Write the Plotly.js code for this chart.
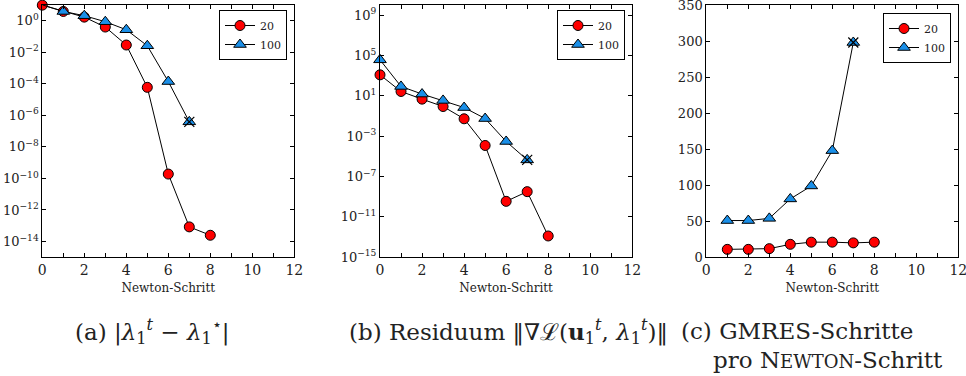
<!DOCTYPE html>
<html>
<head>
<meta charset="utf-8">
<script src="https://cdn.plot.ly/plotly-3.0.1.min.js"></script>
<style>
  html, body { margin: 0; padding: 0; background: #fff; }
  #chart { width: 966px; height: 376px; }
</style>
</head>
<body>
<div id="chart"></div>
<script>
// Newton iterations for two problem sizes (20 and 100)
const seriesNames = ["20", "100"];

// (a) eigenvalue error |λ1^t − λ1*|
const stepsA20 = [0, 1, 2, 3, 4, 5, 6, 7, 8];
const errA20 = [9.8, 3.9, 1.7, 0.4, 0.029, 6e-5, 1.9e-10, 8.5e-14, 2.5e-14];
const stepsA100 = [0, 1, 2, 3, 4, 5, 6, 7];
const errA100 = [10.2, 3.9, 2.1, 0.87, 0.27, 0.026, 1.4e-4, 3.9e-7];

// (b) residual norm
const stepsB20 = [0, 1, 2, 3, 4, 5, 6, 7, 8];
const resB20 = [1200, 27, 4.7, 0.87, 0.053, 1.2e-4, 3.5e-10, 3.2e-9, 1.3e-13];
const stepsB100 = [0, 1, 2, 3, 4, 5, 6, 7];
const resB100 = [3.7e4, 85, 15, 3.5, 0.69, 0.056, 3e-4, 4.5e-6];

// (c) GMRES iterations per Newton step
const stepsC20 = [1, 2, 3, 4, 5, 6, 7, 8];
const gmresC20 = [11, 11, 12, 18, 21, 21, 20, 21];
const stepsC100 = [1, 2, 3, 4, 5, 6, 7];
const gmresC100 = [51, 51, 54, 81, 99, 148, 298];

// axis tick labels
const xTicks = [0, 2, 4, 6, 8, 10, 12];
const expA = [0, -2, -4, -6, -8, -10, -12, -14];
const expB = [9, 5, 1, -3, -7, -11, -15];
const yTicksC = [0, 50, 100, 150, 200, 250, 300, 350];
const xTitle = "Newton-Schritt";

const W = 966, H = 376;
const FONT = "DejaVu Serif";
const RED = "#ff0000", BLUE = "#1a8fe8";

const px = v => v / W;
const py = v => 1 - v / H;

function powLabels(exps) {
  return exps.map(e => "10<sup>" + (e < 0 ? "\u2212" + (-e) : e) + "</sup>");
}

function lineTrace(x, y, name, sym, color, xa, ya, leg) {
  return {
    x: x, y: y, name: name, type: "scatter", mode: "lines+markers",
    xaxis: xa, yaxis: ya, legend: leg, cliponaxis: false,
    line: { color: "#000", width: 1 },
    marker: {
      symbol: sym, color: color, size: sym === "circle" ? 10 : 11,
      line: { color: "#000", width: 1 }
    }
  };
}

// marks the last (non-converged) iterate of the larger problem
function crossTrace(x, y, xa, ya) {
  return {
    x: [x[x.length - 1]], y: [y[y.length - 1]], type: "scatter", mode: "markers",
    xaxis: xa, yaxis: ya, showlegend: false, cliponaxis: false, hoverinfo: "skip",
    marker: { symbol: "x-thin", size: 10, line: { color: "#000", width: 1.2 } }
  };
}

const traces = [
  lineTrace(stepsA20, errA20, seriesNames[0], "circle", RED, "x", "y", "legend"),
  lineTrace(stepsA100, errA100, seriesNames[1], "triangle-up", BLUE, "x", "y", "legend"),
  crossTrace(stepsA100, errA100, "x", "y"),
  lineTrace(stepsB20, resB20, seriesNames[0], "circle", RED, "x2", "y2", "legend2"),
  lineTrace(stepsB100, resB100, seriesNames[1], "triangle-up", BLUE, "x2", "y2", "legend2"),
  crossTrace(stepsB100, resB100, "x2", "y2"),
  lineTrace(stepsC20, gmresC20, seriesNames[0], "circle", RED, "x3", "y3", "legend3"),
  lineTrace(stepsC100, gmresC100, seriesNames[1], "triangle-up", BLUE, "x3", "y3", "legend3"),
  crossTrace(stepsC100, gmresC100, "x3", "y3")
];

const TOP = 5, BOTTOM = 257.3;
const yDom = [py(BOTTOM), py(TOP)];

function xAxis(l, r, anchor) {
  return {
    domain: [px(l), px(r)], anchor: anchor, range: [0, 12],
    tickvals: xTicks, ticktext: xTicks.map(String), ticklabeloverflow: "allow",
    showline: true, linecolor: "#000", linewidth: 1, mirror: "allticks",
    ticks: "inside", ticklen: 4, tickcolor: "#000", tickwidth: 1,
    minor: { dtick: 1, tick0: 0, ticks: "inside", ticklen: 4, tickcolor: "#000", showgrid: false },
    showgrid: false, zeroline: false,
    tickfont: { family: FONT, size: 14, color: "#222" },
    title: { text: xTitle, font: { family: FONT, size: 12, color: "#222" }, standoff: 6 }
  };
}

function yBase(anchor) {
  return {
    domain: yDom, anchor: anchor, ticklabeloverflow: "allow",
    showline: true, linecolor: "#000", linewidth: 1, mirror: "allticks",
    ticks: "inside", ticklen: 4, tickcolor: "#000", tickwidth: 1,
    showgrid: false, zeroline: false,
    tickfont: { family: FONT, size: 13, color: "#222" }
  };
}

function legendAt(rightPx, topPx) {
  return {
    x: px(rightPx), y: py(topPx), xanchor: "right", yanchor: "top",
    bgcolor: "#fff", bordercolor: "#000", borderwidth: 1,
    font: { family: FONT, size: 11, color: "#222" },
    itemwidth: 30, tracegroupgap: 0
  };
}

const captionFont = { family: FONT, size: 23, color: "#222" };
const annotations = [
  {
    text: "(a) |<i>λ</i><sub>1</sub><sup><i>t</i></sup> \u2212 <i>λ</i><sub>1</sub><sup>\u22c6</sup>|",
    x: px(152), y: py(331), xanchor: "center", yanchor: "middle"
  },
  {
    text: "(b) Residuum \u2016\u2207\u2112(<b>u</b><sub>1</sub><sup><i>t</i></sup>, <i>λ</i><sub>1</sub><sup><i>t</i></sup>)\u2016",
    x: px(670), y: py(331), xanchor: "right", yanchor: "middle"
  },
  {
    text: "(c) GMRES-Schritte",
    x: px(679), y: py(331), xanchor: "left", yanchor: "middle"
  },
  {
    text: "pro N<span style=\"font-size:18px\">EWTON</span>-Schritt",
    x: px(711), y: py(360), xanchor: "left", yanchor: "middle"
  }
].map(a => Object.assign({ xref: "paper", yref: "paper", showarrow: false, font: captionFont }, a));

const layout = {
  width: W, height: H,
  margin: { l: 0, r: 0, t: 0, b: 0 },
  paper_bgcolor: "#fff", plot_bgcolor: "#fff",
  font: { family: FONT, color: "#222" },
  xaxis: xAxis(42.3, 294.3, "y"),
  yaxis: Object.assign(yBase("x"), {
    type: "log", range: [-15, 1],
    tickvals: expA.map(e => Math.pow(10, e)), ticktext: powLabels(expA)
  }),
  xaxis2: xAxis(380, 632.3, "y2"),
  yaxis2: Object.assign(yBase("x2"), {
    type: "log", range: [-15, 10],
    tickvals: expB.map(e => Math.pow(10, e)), ticktext: powLabels(expB)
  }),
  xaxis3: xAxis(706.3, 958.3, "y3"),
  yaxis3: Object.assign(yBase("x3"), {
    range: [0, 350], tickvals: yTicksC, ticktext: yTicksC.map(String)
  }),
  legend: legendAt(287, 10),
  legend2: legendAt(625, 10),
  legend3: legendAt(951, 13),
  annotations: annotations,
  showlegend: true
};

Plotly.newPlot("chart", traces, layout, { displayModeBar: false, staticPlot: true });
</script>
</body>
</html>
